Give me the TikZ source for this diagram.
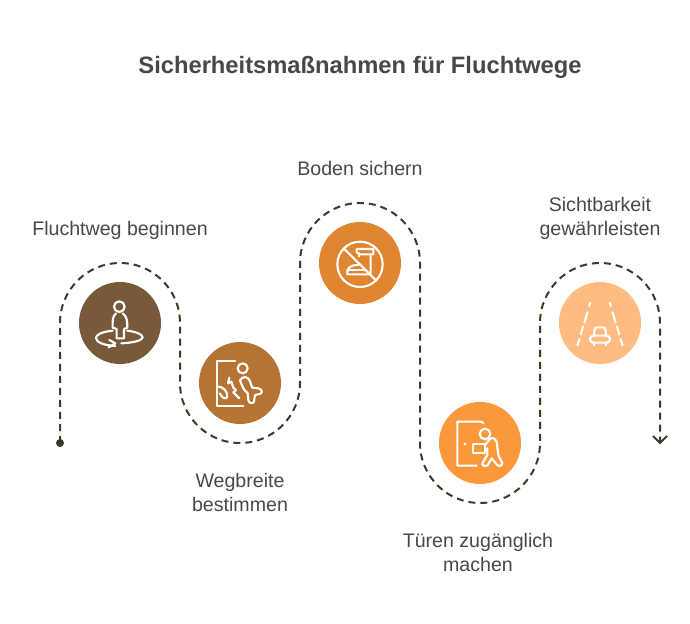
\documentclass[tikz,border=0pt]{standalone}
\usepackage{fontspec}
\setmainfont{Liberation Sans}
\usetikzlibrary{arrows.meta}
\definecolor{routec}{HTML}{43362B}
\definecolor{txtc}{HTML}{484848}
\definecolor{ca}{HTML}{78593A}
\definecolor{cb}{HTML}{B57334}
\definecolor{cc}{HTML}{E08530}
\definecolor{cd}{HTML}{FB983C}
\definecolor{ce}{HTML}{FFBB80}
\tikzset{
  disc/.style={circle,minimum size=61.5pt,inner sep=0pt,fill=#1},
  route/.style={draw=routec,line width=1.5pt,dash pattern=on 5.25pt off 3.75pt},
  lbl/.style={text=txtc,font=\fontsize{14.7pt}{18pt}\selectfont,align=center},
  ttl/.style={text=txtc,font=\fontsize{17.8pt}{21pt}\selectfont\bfseries},
  ico/.style={draw=white,line width=1.6pt,line cap=round,line join=round}
}
\begin{document}
\begin{tikzpicture}[x=0.75pt,y=0.75pt,yscale=-1]
\useasboundingbox (0,0) rectangle (690,624);
\node[ttl] (title) at (360,67) {Sicherheitsmaßnahmen für Fluchtwege};
\node[disc=ca] (n1) at (120,323) {};
\node[disc=cb] (n2) at (240,383) {};
\node[disc=cc] (n3) at (360,263) {};
\node[disc=cd] (n4) at (480,443) {};
\node[disc=ce] (n5) at (600,323) {};
\node[lbl] (t1) at (120,230) {Fluchtweg beginnen};
\node[lbl] (t2) at (240,492) {Wegbreite\\bestimmen};
\node[lbl] (t3) at (360,168) {Boden sichern};
\node[lbl] (t4) at (478,552) {Türen zugänglich\\machen};
\node[lbl] (t5) at (600,218) {Sichtbarkeit\\gewährleisten};
\node[circle,fill=routec,minimum size=6pt,inner sep=0pt] (start) at (60,443) {};
\coordinate (finish) at (660,443);
\draw[route] (start.center) -- ++(0,-120) arc[start angle=180,end angle=360,radius=60]
  -- ++(0,60) arc[start angle=180,end angle=0,radius=60]
  -- ++(0,-120) arc[start angle=180,end angle=360,radius=60]
  -- ++(0,180) arc[start angle=180,end angle=0,radius=60]
  -- ++(0,-120) arc[start angle=180,end angle=360,radius=60]
  -- (finish);
\draw[draw=routec,line width=1.5pt] ([shift={(-7,-7)}]finish) -- (finish) -- ([shift={(7,-7)}]finish);
% icon 1
\begin{scope}[shift={(50,260)},x=0.25pt,y=0.25pt]
\draw[ico] (208,140) circle[radius=16];
\draw[ico] (198,160) .. controls (186,170) and (188,185) .. (188,203) -- (200,207) -- (200,235) -- (222,235) -- (222,207) -- (232,203) .. controls (232,185) and (232,170) .. (218,160);
\draw[ico] (188,212) .. controls (150,216) and (138,226) .. (138,234) .. controls (138,248) and (165,256) .. (196,258);
\draw[ico] (178,240) -- (196,250) -- (176,262);
\draw[ico] (232,212) .. controls (262,216) and (278,224) .. (278,232) .. controls (278,240) and (255,248) .. (214,250);
\end{scope}
% icon 2
\begin{scope}[shift={(190,335)},x=0.25pt,y=0.25pt]
\draw[ico] (135,77) -- (82,77) -- (82,212) -- (160,212);
\draw[ico] (158,100) circle[radius=15];
\draw[ico] (150,135) .. controls (160,122) and (172,125) .. (178,135) -- (187,158) -- (205,160) .. controls (220,163) and (218,178) .. (205,178) -- (195,180) -- (192,200) .. controls (188,208) and (176,205) .. (175,195) -- (173,175) .. controls (160,165) and (155,150) .. (150,135);
\draw[ico] (84,155) .. controls (100,155) and (112,168) .. (112,185) .. controls (108,195) and (95,190) .. (90,175);
\draw[ico] (118,128) -- (114,145) -- (124,140) -- (130,158) -- (138,165) -- (130,172) -- (148,190);
\end{scope}
% icon 3
\begin{scope}[shift={(310,215)},x=0.25pt,y=0.25pt]
\draw[ico] (150,148) circle[radius=68];
\draw[ico] (101,100) -- (198,196);
\draw[ico] (140,102) -- (190,102) -- (190,118) -- (150,118) -- (140,112) -- cycle;
\draw[ico] (182,118) -- (182,178) -- (112,178) .. controls (110,160) and (118,150) .. (145,150);
\draw[ico] (148,118) -- (148,125);
\draw[ico] (112,166) -- (165,166);
\end{scope}
% icon 4
\begin{scope}[shift={(430,395)},x=0.25pt,y=0.25pt]
\draw[ico] (160,85) .. controls (158,80) and (155,80) .. (150,80) -- (82,80) -- (82,212) -- (140,212);
\fill[white] (105,147) circle[radius=5];
\draw[ico] (165,117) circle[radius=16];
\draw[ico] (130,148) rectangle (165,175);
\draw[ico] (165,150) -- (180,132) .. controls (190,125) and (198,132) .. (200,140) -- (205,180) -- (217,205) .. controls (215,215) and (205,215) .. (200,208) -- (185,190) -- (172,212) .. controls (165,215) and (155,212) .. (157,205) -- (172,180) -- (172,160) -- (165,168);
\end{scope}
% icon 5
\begin{scope}[shift={(550,275)},x=0.25pt,y=0.25pt]
\draw[ico,line cap=butt] (121,82) -- (117,95) (113,110) -- (103,145) (100,152) -- (92,180) (89,190) -- (82,212);
\draw[ico,line cap=butt] (179,82) -- (183,95) (187,110) -- (197,145) (200,152) -- (208,180) (211,190) -- (218,212);
\draw[ico] (132,180) -- (134,163) .. controls (135,158) and (137,157) .. (142,157) -- (158,157) .. controls (163,157) and (165,158) .. (166,163) -- (168,180);
\draw[ico,rounded corners=2.5pt] (120,182) rectangle (180,203);
\draw[ico] (132,203) -- (132,212) (168,203) -- (168,212);
\end{scope}
\end{tikzpicture}
\end{document}
